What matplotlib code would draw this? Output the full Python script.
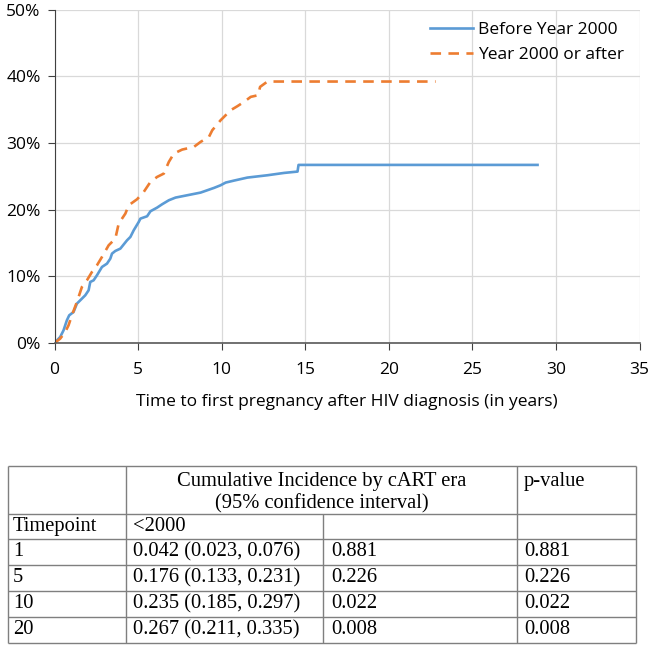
import matplotlib.pyplot as plt
from matplotlib.ticker import FuncFormatter, MultipleLocator

# --- curve data: years, cumulative incidence in % ---
before_years = [0, 0.34, 0.54, 0.74, 0.88, 1.14, 1.34, 1.54, 1.84, 2.04, 2.14, 2.34, 2.54,
                2.84, 3.14, 3.34, 3.44, 3.64, 3.94, 4.34, 4.54, 4.74, 5.04, 5.14, 5.54,
                5.74, 6.14, 6.44, 6.84, 7.24, 7.94, 8.74, 9.54, 9.94, 10.24, 10.74, 11.54,
                12.74, 13.74, 14.54, 14.6, 28.9]
before_pct = [0, 0.9, 1.9, 3.4, 4.15, 4.65, 5.9, 6.4, 7.15, 7.9, 9.15, 9.4, 10.15,
              11.4, 11.9, 12.65, 13.4, 13.8, 14.15, 15.4, 15.9, 16.9, 18.15, 18.65, 19.0,
              19.75, 20.3, 20.8, 21.4, 21.8, 22.15, 22.55, 23.25, 23.65, 24.05, 24.35, 24.8,
              25.15, 25.5, 25.7, 26.7, 26.7]

after_years = [0, 0.34, 0.64, 0.84, 1.04, 1.34, 1.64, 1.94, 2.24, 2.54, 2.84, 3.24, 3.64,
               3.84, 4.24, 4.44, 4.94, 5.34, 5.74, 6.14, 6.54, 6.84, 7.14, 7.64, 8.34,
               8.74, 9.24, 9.44, 9.94, 10.54, 10.94, 11.34, 11.74, 12.18, 12.3, 12.74, 22.8]
after_pct = [0, 0.65, 1.65, 2.65, 4.15, 6.15, 8.4, 9.4, 10.65, 11.65, 12.9, 14.65, 15.65,
             17.9, 19.4, 20.65, 21.55, 22.65, 24.15, 24.9, 25.4, 27.15, 28.4, 29.0, 29.4,
             30.15, 30.9, 31.9, 33.4, 34.9, 35.5, 36.15, 36.9, 37.15, 38.4, 39.2, 39.2]

series_labels = ['Before Year 2000', 'Year 2000 or after']

# --- table data ---
header_title = 'Cumulative Incidence by cART era\n(95% confidence interval)'
header_pvalue = 'p-value'
timepoints = ['Timepoint', '1', '5', '10', '20']
incidence_before = ['<2000', '0.042 (0.023, 0.076)', '0.176 (0.133, 0.231)',
                    '0.235 (0.185, 0.297)', '0.267 (0.211, 0.335)']
incidence_after = ['', '0.881', '0.226', '0.022', '0.008']
p_values = ['', '0.881', '0.226', '0.022', '0.008']

W, H = 652, 647
BLUE = '#5b9bd5'
ORANGE = '#ed7d31'
plt.rcParams['font.family'] = ['Open Sans', 'DejaVu Sans']

fig = plt.figure(figsize=(W / 100, H / 100), dpi=100)
ax = fig.add_axes([54.5 / W, (H - 343) / H, 585 / W, 333.5 / H])

ax.plot(before_years, before_pct, color=BLUE, lw=1.9, label=series_labels[0])
ax.plot(after_years, after_pct, color=ORANGE, lw=1.9, dashes=(4, 2.8), label=series_labels[1])

ax.set_xlim(0, 35)
ax.set_ylim(0, 50)
ax.xaxis.set_major_locator(MultipleLocator(5))
ax.yaxis.set_major_locator(MultipleLocator(10))
ax.yaxis.set_major_formatter(FuncFormatter(lambda v, _: f'{v:.0f}%'))
ax.grid(True, color='#d9d9d9', lw=0.9)
ax.set_axisbelow(True)
for side in ('top', 'right'):
    ax.spines[side].set_visible(False)
ax.spines['left'].set_color('#404040')
ax.spines['bottom'].set_color('#595959')
ax.spines['bottom'].set_linewidth(1.2)
ax.tick_params(axis='both', direction='out', length=5, colors='#404040', labelcolor='black',
               labelsize=12.5)
ax.tick_params(axis='x', pad=9)
ax.tick_params(axis='y', pad=5)
ax.set_xlabel('Time to first pregnancy after HIV diagnosis (in years)', fontsize=12.5, labelpad=11)

ax.legend(loc='upper right', bbox_to_anchor=(0.995, 1.0), frameon=False, fontsize=12.5,
          handlelength=2.5, handletextpad=0.3, labelspacing=0.5, borderaxespad=0.3)

# --- table drawn in pixel coordinates ---
tax = fig.add_axes([0, 0, 1, 1])
tax.set_xlim(0, W)
tax.set_ylim(H, 0)
tax.axis('off')

col_x = [8, 126, 323, 517, 636]
row_y = [466, 514, 539, 565, 591, 617, 643]
lc = '#7f7f7f'
lw = 1.0
tax.hlines(row_y, col_x[0], col_x[-1], color=lc, lw=lw)
tax.vlines([col_x[0], col_x[1], col_x[3], col_x[4]], row_y[0], row_y[-1], color=lc, lw=lw)
tax.vlines(col_x[2], row_y[1], row_y[-1], color=lc, lw=lw)

serif = ['Liberation Serif', 'DejaVu Serif']
fs = 14.8
tax.text((col_x[1] + col_x[3]) / 2, row_y[0] + 6, header_title, ha='center', va='top',
         fontsize=fs, family=serif, linespacing=1.2)
tax.text(col_x[3] + 7, row_y[0] + 6, header_pvalue, ha='left', va='top', fontsize=fs, family=serif)
for i in range(len(timepoints)):
    yc = (row_y[i + 1] + row_y[i + 2]) / 2
    tax.text(col_x[0] + 5, yc, timepoints[i], ha='left', va='center', fontsize=fs, family=serif)
    tax.text(col_x[1] + 7, yc, incidence_before[i], ha='left', va='center', fontsize=fs, family=serif)
    tax.text(col_x[2] + 8, yc, incidence_after[i], ha='left', va='center', fontsize=fs, family=serif)
    tax.text(col_x[3] + 7, yc, p_values[i], ha='left', va='center', fontsize=fs, family=serif)

fig.savefig('out.png', dpi=100)
